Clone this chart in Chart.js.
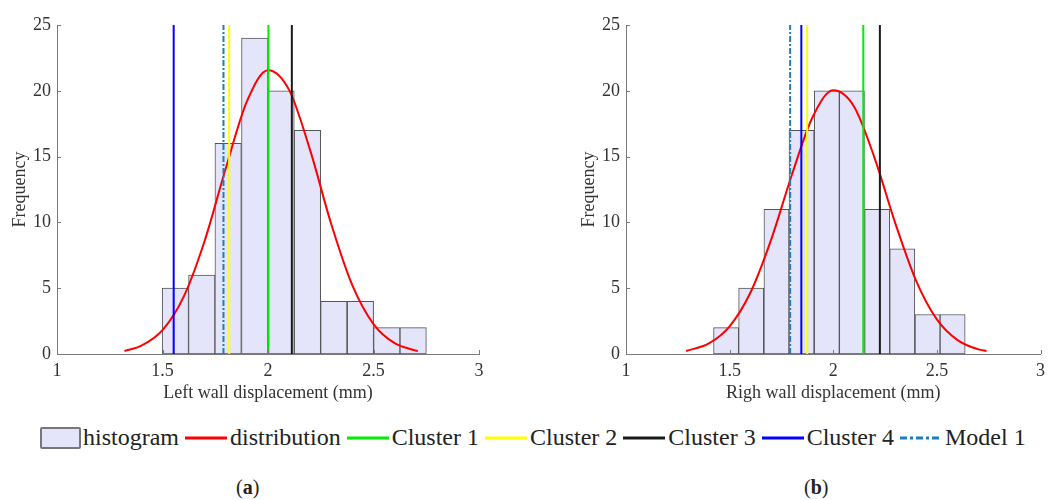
<!DOCTYPE html>
<html>
<head>
<meta charset="utf-8">
<script src="https://cdn.jsdelivr.net/npm/chart.js@4"></script>
<style>
  body { margin: 0; background: #fff; width: 1051px; height: 500px; position: relative; overflow: hidden; font-family: "Liberation Serif", serif; }
  .plot { position: absolute; top: 0; }
  #legend { position: absolute; left: 40px; top: 425px; height: 25px; display: flex; align-items: center; font-family: "Liberation Serif", serif; font-size: 24px; color: #222; white-space: nowrap; }
  #legend .box { width: 41px; height: 22px; box-sizing: border-box; border: 2px solid #777; background: rgb(228, 228, 250); border-radius: 2px; }
  #legend svg { margin: 0 3px 0 6px; }
  #legend .txt { margin-left: 2px; }
  .sub { position: absolute; top: 476px; font-size: 20px; color: #222; }
</style>
</head>
<body>
<div class="plot" style="left:0px"><canvas id="left_chart" width="520" height="410"></canvas></div>
<div class="plot" style="left:569px"><canvas id="right_chart" width="482" height="410"></canvas></div>
<div id="legend"></div>
<div class="sub" style="left:236px">(<b>a</b>)</div>
<div class="sub" style="left:804px">(<b>b</b>)</div>
<script>
// histogram bins (bin centres) and counts
const left_bin_centres = [1.561, 1.686, 1.811, 1.937, 2.062, 2.187, 2.312, 2.438, 2.563, 2.688];
const left_counts = [5, 6, 16, 24, 20, 17, 4, 4, 2, 2];
const right_bin_centres = [1.483, 1.604, 1.726, 1.847, 1.969, 2.090, 2.212, 2.333, 2.455, 2.576];
const right_counts = [2, 5, 11, 17, 20, 20, 11, 8, 3, 3];

// fitted distribution curves
const left_dist_x = [1.32, 1.4, 1.5, 1.6, 1.7, 1.8, 1.9, 2.0, 2.1, 2.2, 2.3, 2.4, 2.5, 2.6, 2.71];
const left_dist_y = [0.23, 0.63, 1.81, 4.34, 8.61, 14.12, 19.19, 21.57, 20.07, 15.47, 9.86, 5.21, 2.27, 0.82, 0.22];
const right_dist_x = [1.29, 1.4, 1.5, 1.6, 1.7, 1.8, 1.9, 2.0, 2.1, 2.2, 2.3, 2.4, 2.5, 2.6, 2.7, 2.74];
const right_dist_y = [0.23, 0.80, 2.10, 4.65, 8.67, 13.60, 17.99, 20.04, 18.81, 14.87, 9.91, 5.56, 2.63, 1.05, 0.35, 0.22];

// marker lines: Cluster 1..4, Model 1
const line_names = ['Cluster 1', 'Cluster 2', 'Cluster 3', 'Cluster 4', 'Model 1'];
const left_markers = [2.002, 1.816, 2.113, 1.553, 1.789];
const right_markers = [2.145, 1.874, 2.225, 1.846, 1.792];

const x_ticks = [1, 1.5, 2, 2.5, 3];
const y_ticks = [0, 5, 10, 15, 20, 25];

const line_colors = ['#00ee00', '#ffff00', '#1a1a1a', '#0000ff', '#1a7fc4'];
const line_dashes = [[], [], [], [], [6, 2, 2, 2]];
const axis_color = '#7a7a7a';
const text_color = '#333';
const tick_font = { family: 'Liberation Serif', size: 18 };

// small inward tick marks, as in the original plotting tool
const inward_ticks = {
  id: 'inward_ticks',
  afterDraw(chart) {
    const ctx = chart.ctx;
    const xs = chart.scales.x, ys = chart.scales.y;
    ctx.save();
    ctx.strokeStyle = axis_color;
    ctx.lineWidth = 1;
    ctx.beginPath();
    x_ticks.forEach(v => {
      const px = Math.round(xs.getPixelForValue(v)) + 0.5;
      ctx.moveTo(px, ys.bottom);
      ctx.lineTo(px, ys.bottom - 4);
    });
    y_ticks.forEach(v => {
      const py = Math.round(ys.getPixelForValue(v)) + 0.5;
      ctx.moveTo(xs.left, py);
      ctx.lineTo(xs.left + 4, py);
    });
    ctx.stroke();
    ctx.restore();
  }
};

function make_chart(canvas_id, centres, counts, dist_x, dist_y, markers, x_title, right_pad) {
  const datasets = [];

  markers.forEach((m, i) => {
    datasets.push({
      type: 'line',
      label: line_names[i],
      data: [{ x: m, y: 0 }, { x: m, y: 25 }],
      borderColor: line_colors[i],
      borderDash: line_dashes[i],
      borderWidth: 2,
      pointRadius: 0,
      order: 1
    });
  });

  datasets.push({
    type: 'line',
    label: 'distribution',
    data: dist_x.map((x, i) => ({ x: x, y: dist_y[i] })),
    borderColor: '#ff0000',
    borderWidth: 2,
    pointRadius: 0,
    cubicInterpolationMode: 'monotone',
    order: 2
  });

  datasets.push({
    type: 'bar',
    label: 'histogram',
    data: centres.map((x, i) => ({ x: x, y: counts[i] })),
    backgroundColor: 'rgb(228, 228, 250)',
    borderColor: '#555',
    borderWidth: 1,
    borderSkipped: false,
    barPercentage: 1,
    categoryPercentage: 1,
    grouped: false,
    order: 3
  });

  return new Chart(document.getElementById(canvas_id).getContext('2d'), {
    type: 'line',
    data: { datasets: datasets },
    options: {
      responsive: false,
      animation: false,
      events: [],
      layout: { padding: { left: 0, right: right_pad, top: 25, bottom: 0 } },
      plugins: { legend: { display: false }, tooltip: { enabled: false } },
      scales: {
        x: {
          type: 'linear',
          min: 1,
          max: 3,
          offset: false,
          afterBuildTicks: scale => { scale.ticks = x_ticks.map(v => ({ value: v })); },
          afterFit: scale => { scale.height = 56; },
          grid: { display: false, drawTicks: false },
          border: { display: true, color: axis_color, width: 1 },
          ticks: { color: text_color, font: tick_font, padding: 6, maxRotation: 0, callback: v => String(v) },
          title: { display: true, text: x_title, color: text_color, font: tick_font, padding: { top: 0, bottom: 6 } }
        },
        y: {
          type: 'linear',
          min: 0,
          max: 25,
          afterBuildTicks: scale => { scale.ticks = y_ticks.map(v => ({ value: v })); },
          afterFit: scale => { scale.width = 57; },
          grid: { display: false, drawTicks: false },
          border: { display: true, color: axis_color, width: 1 },
          ticks: { color: text_color, font: tick_font, padding: 6, callback: v => String(v) },
          title: { display: true, text: 'Frequency', color: text_color, font: tick_font, padding: { top: 9, bottom: 0 } }
        }
      }
    },
    plugins: [inward_ticks]
  });
}

make_chart('left_chart', left_bin_centres, left_counts, left_dist_x, left_dist_y, left_markers, 'Left wall displacement (mm)', 41);
make_chart('right_chart', right_bin_centres, right_counts, right_dist_x, right_dist_y, right_markers, 'Righ wall displacement (mm)', 4);

// shared legend under both panels
const legend = document.getElementById('legend');
let legend_html = '<span class="box"></span><span class="txt">histogram</span>';
legend_html += '<svg width="42" height="6"><line x1="0" y1="3" x2="42" y2="3" stroke="#ff0000" stroke-width="3"/></svg><span>distribution</span>';
line_names.forEach((name, i) => {
  const dash = line_dashes[i].length ? ' stroke-dasharray="7 3 3 3"' : '';
  legend_html += '<svg width="42" height="6"><line x1="0" y1="3" x2="42" y2="3" stroke="' + line_colors[i] + '" stroke-width="3"' + dash + '/></svg><span>' + name + '</span>';
});
legend.innerHTML = legend_html;
</script>
</body>
</html>
